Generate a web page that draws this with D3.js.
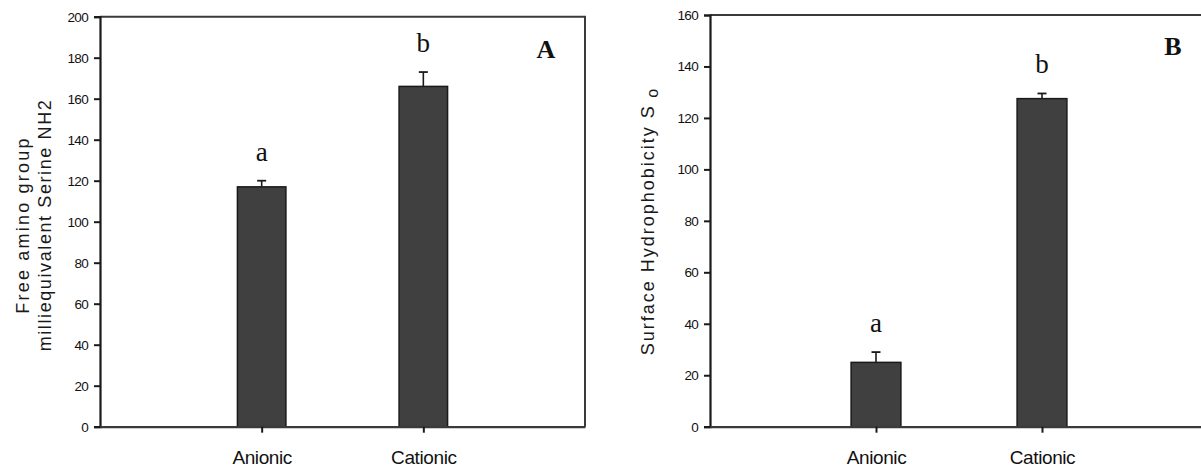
<!DOCTYPE html>
<html>
<head>
<meta charset="utf-8">
<script src="https://cdn.jsdelivr.net/npm/d3@7"></script>
<style>
  html, body { margin: 0; padding: 0; background: #fff; }
  svg { display: block; }
  .tick text { font-family: "Liberation Sans", Arial, sans-serif; fill: #111; }
</style>
</head>
<body>
<svg id="chart" width="1201" height="472"></svg>
<script>
// Surfactant type categories shared by both panels
const categories = ["Anionic", "Cationic"];

// Panel A: free amino groups (milliequivalent serine NH2)
const aminoValues = [117, 166];
const aminoErrors = [3, 7];
const aminoLetters = ["a", "b"];
const aminoTicks = [0, 20, 40, 60, 80, 100, 120, 140, 160, 180, 200];

// Panel B: surface hydrophobicity S0
const hydroValues = [25, 127.5];
const hydroErrors = [4, 2];
const hydroLetters = ["a", "b"];
const hydroTicks = [0, 20, 40, 60, 80, 100, 120, 140, 160];

const svg = d3.select("#chart");

function drawPanel(opt) {
  const g = svg.append("g");
  const x = d3.scalePoint().domain(categories).range([opt.x0, opt.x1]).padding(1);
  const y = d3.scaleLinear().domain([0, opt.yMax]).range([opt.yBottom, opt.yTop]);
  const barW = x.step() * 0.30;

  // frame: top and right edges
  g.append("path")
    .attr("d", `M${opt.x0},${opt.yTop}H${opt.x1}V${opt.yBottom}`)
    .attr("fill", "none").attr("stroke", "#3a3a3a").attr("stroke-width", 2);

  // bars
  g.selectAll("rect.bar").data(opt.values).join("rect")
    .attr("class", "bar")
    .attr("x", (d, i) => x(categories[i]) - barW / 2)
    .attr("width", barW)
    .attr("y", d => y(d))
    .attr("height", d => y(0) - y(d))
    .attr("fill", "#404040")
    .attr("stroke", "#1a1a1a")
    .attr("stroke-width", 1.5);

  // upper error bars
  const eb = g.selectAll("g.err").data(opt.values).join("g").attr("class", "err");
  eb.append("line")
    .attr("x1", (d, i) => x(categories[i])).attr("x2", (d, i) => x(categories[i]))
    .attr("y1", d => y(d)).attr("y2", (d, i) => y(d + opt.errors[i]))
    .attr("stroke", "#1a1a1a").attr("stroke-width", 1.6);
  eb.append("line")
    .attr("x1", (d, i) => x(categories[i]) - 4.5).attr("x2", (d, i) => x(categories[i]) + 4.5)
    .attr("y1", (d, i) => y(d + opt.errors[i])).attr("y2", (d, i) => y(d + opt.errors[i]))
    .attr("stroke", "#1a1a1a").attr("stroke-width", 1.8);

  // significance letters
  g.selectAll("text.sig").data(opt.values).join("text")
    .attr("class", "sig")
    .attr("x", (d, i) => x(categories[i]))
    .attr("y", (d, i) => y(d + opt.errors[i]) - 20)
    .attr("text-anchor", "middle")
    .attr("font-family", "'Liberation Serif', 'Times New Roman', serif")
    .attr("font-size", 27)
    .attr("fill", "#111")
    .text((d, i) => opt.letters[i]);

  // panel letter
  g.append("text")
    .attr("x", opt.tagX).attr("y", opt.tagY)
    .attr("text-anchor", "middle")
    .attr("font-family", "'Liberation Serif', 'Times New Roman', serif")
    .attr("font-weight", "bold")
    .attr("font-size", 26)
    .attr("fill", "#111")
    .text(opt.tag);

  // y axis
  const ya = g.append("g")
    .attr("transform", `translate(${opt.x0},0)`)
    .call(d3.axisLeft(y).tickValues(opt.ticks).tickSize(6).tickPadding(6));
  ya.select(".domain").attr("stroke", "#1a1a1a").attr("stroke-width", 2.2);
  ya.selectAll(".tick line").attr("stroke", "#1a1a1a").attr("stroke-width", 2);
  ya.selectAll(".tick text").attr("font-size", 13.5).style("letter-spacing", "-0.7px");

  // x axis
  const xa = g.append("g")
    .attr("transform", `translate(0,${opt.yBottom})`)
    .call(d3.axisBottom(x).tickSize(6).tickSizeOuter(0).tickPadding(18));
  xa.select(".domain").attr("stroke", "#3a3a3a").attr("stroke-width", 2.2);
  xa.selectAll(".tick line").attr("stroke", "#1a1a1a").attr("stroke-width", 2);
  xa.selectAll(".tick text").attr("font-size", 19).style("letter-spacing", "-0.4px");

  return { x, y };
}

drawPanel({
  x0: 100, x1: 585, yTop: 16.7, yBottom: 426.7, yMax: 200,
  values: aminoValues, errors: aminoErrors, letters: aminoLetters, ticks: aminoTicks,
  tag: "A", tagX: 546, tagY: 58
});

drawPanel({
  x0: 710, x1: 1208, yTop: 15, yBottom: 426.7, yMax: 160,
  values: hydroValues, errors: hydroErrors, letters: hydroLetters, ticks: hydroTicks,
  tag: "B", tagX: 1173, tagY: 55
});

// y axis titles
const labelFont = "'Liberation Sans', Arial, sans-serif";
svg.append("text")
  .attr("transform", "translate(29,225) rotate(-90)")
  .attr("text-anchor", "middle")
  .attr("font-family", labelFont).attr("font-size", 18)
  .style("letter-spacing", "2.2px")
  .attr("fill", "#1a1a1a")
  .text("Free amino group");
svg.append("text")
  .attr("transform", "translate(51,225) rotate(-90)")
  .attr("text-anchor", "middle")
  .attr("font-family", labelFont).attr("font-size", 18)
  .style("letter-spacing", "1.6px")
  .attr("fill", "#1a1a1a")
  .text("milliequivalent Serine NH2");

const bt = svg.append("text")
  .attr("transform", "translate(654,221) rotate(-90)")
  .attr("text-anchor", "middle")
  .attr("font-family", labelFont).attr("font-size", 18)
  .style("letter-spacing", "2px")
  .attr("fill", "#1a1a1a");
bt.append("tspan").text("Surface Hydrophobicity S");
bt.append("tspan").attr("dy", 4).attr("font-size", 16).text(" o");
</script>
</body>
</html>
